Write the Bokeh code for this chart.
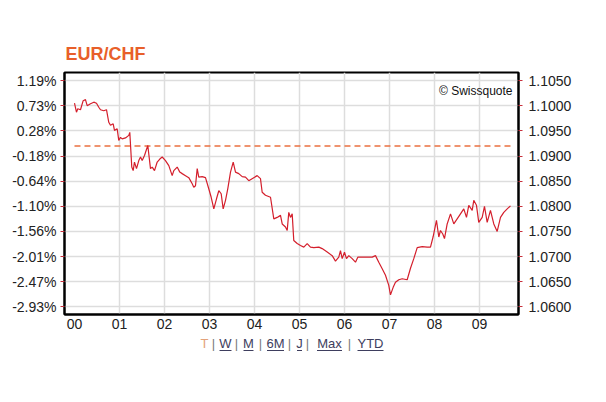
from bokeh.plotting import figure
from bokeh.layouts import column
from bokeh.models import Range1d, LinearAxis, FixedTicker, Label
from bokeh.core.properties import value
from bokeh.embed import file_html
from bokeh.resources import INLINE

# ---- data (hours since 00:00, EUR/CHF price) ----
hours = [0.0, 0.044, 0.073, 0.133, 0.193, 0.244, 0.282, 0.356, 0.429, 0.489,
         0.54, 0.578, 0.651, 0.711, 0.762, 0.8, 0.86, 0.889, 0.949, 0.984,
         1.022, 1.06, 1.133, 1.207, 1.229, 1.244, 1.273, 1.304, 1.333, 1.378,
         1.429, 1.467, 1.504, 1.556, 1.629, 1.689, 1.727, 1.778, 1.838, 1.896,
         1.949, 2.022, 2.096, 2.171, 2.207, 2.282, 2.34, 2.393, 2.467, 2.54,
         2.616, 2.651, 2.689, 2.727, 2.762, 2.838, 2.911, 2.984, 3.038, 3.096,
         3.156, 3.207, 3.26, 3.304, 3.356, 3.407, 3.467, 3.527, 3.578, 3.651,
         3.727, 3.8, 3.873, 3.984, 4.06, 4.133, 4.171, 4.244, 4.356, 4.429,
         4.504, 4.578, 4.616, 4.689, 4.727, 4.762, 4.8, 4.838, 4.873, 4.949,
         5.022, 5.096, 5.171, 5.244, 5.318, 5.429, 5.504, 5.616, 5.727, 5.8,
         5.873, 5.911, 5.949, 6.0, 6.044, 6.096, 6.171, 6.244, 6.296, 6.393,
         6.504, 6.616, 6.689, 6.762, 6.838, 6.911, 6.984, 7.022, 7.082, 7.133,
         7.207, 7.282, 7.393, 7.467, 7.54, 7.616, 7.727, 7.838, 7.911, 7.971,
         8.044, 8.096, 8.133, 8.184, 8.222, 8.282, 8.356, 8.429, 8.504, 8.578,
         8.651, 8.711, 8.762, 8.838, 8.873, 8.933, 8.984, 9.06, 9.111, 9.171,
         9.244, 9.318, 9.393, 9.467, 9.54, 9.616, 9.689]
prices = [1.1005, 1.0987, 1.0994, 1.0992, 1.1010, 1.1012, 1.1000, 1.1004, 1.1007, 1.1005,
          1.0997, 1.0992, 1.0990, 1.0992, 1.0967, 1.0961, 1.0964, 1.0951, 1.0954, 1.0931,
          1.0937, 1.0934, 1.0936, 1.0941, 1.0947, 1.0924, 1.0878, 1.0871, 1.0888, 1.0875,
          1.0891, 1.0898, 1.0891, 1.0901, 1.0921, 1.0875, 1.0878, 1.0871, 1.0888, 1.0894,
          1.0898, 1.0891, 1.0881, 1.0861, 1.0871, 1.0878, 1.0868, 1.0865, 1.0861, 1.0857,
          1.0845, 1.0838, 1.0841, 1.0875, 1.0858, 1.0859, 1.0857, 1.0835, 1.0818, 1.0795,
          1.0815, 1.0831, 1.0825, 1.0795, 1.0812, 1.0835, 1.0868, 1.0888, 1.0868, 1.0865,
          1.0859, 1.0858, 1.0851, 1.0857, 1.0861, 1.0855, 1.0828, 1.0822, 1.0818, 1.0775,
          1.0778, 1.0782, 1.0765, 1.0759, 1.0752, 1.0788, 1.0778, 1.0785, 1.0732, 1.0726,
          1.0722, 1.0719, 1.0726, 1.0719, 1.0718, 1.0719, 1.0716, 1.0709, 1.0702, 1.0691,
          1.0699, 1.0712, 1.0696, 1.0709, 1.0696, 1.0702, 1.0696, 1.0689, 1.0699, 1.0699,
          1.0699, 1.0699, 1.0702, 1.0689, 1.0676, 1.0663, 1.0643, 1.0624, 1.0639, 1.0649,
          1.0654, 1.0656, 1.0654, 1.0677, 1.0696, 1.0718, 1.0720, 1.0719, 1.0719, 1.0740,
          1.0772, 1.0739, 1.0752, 1.0745, 1.0736, 1.0765, 1.0785, 1.0765, 1.0775, 1.0785,
          1.0795, 1.0778, 1.0802, 1.0792, 1.0812, 1.0802, 1.0768, 1.0778, 1.0800, 1.0768,
          1.0792, 1.0765, 1.0750, 1.0778, 1.0788, 1.0795, 1.0801]

reference_price = 1.0920
price_ticks = [1.0600, 1.0650, 1.0700, 1.0750, 1.0800, 1.0850, 1.0900, 1.0950, 1.1000, 1.1050]
price_labels = ["1.0600", "1.0650", "1.0700", "1.0750", "1.0800", "1.0850", "1.0900", "1.0950", "1.1000", "1.1050"]
pct_labels = ["-2.93%", "-2.47%", "-2.01%", "-1.56%", "-1.10%", "-0.64%", "-0.18%", "0.28%", "0.73%", "1.19%"]
hour_ticks = [0, 1, 2, 3, 4, 5, 6, 7, 8, 9]
hour_labels = ["00", "01", "02", "03", "04", "05", "06", "07", "08", "09"]
title_text = "EUR/CHF"
credit_text = "\u00a9 Swissquote"
links = ["T", "|", "W", "|", "M", "|", "6M", "|", "J", "|", "Max", "|", "YTD"]

FONT = "Liberation Sans"
RED = "#d41f2c"
TICK_RED = "#c8303c"

p = figure(width=606, height=334, output_backend="svg", toolbar_location=None,
           x_range=Range1d(-0.222, 9.867), y_range=Range1d(1.0585, 1.1066),
           min_border_left=64, min_border_right=88, min_border_top=72, min_border_bottom=20,
           y_axis_location=None, x_axis_location=None)
p.background_fill_color = "white"
p.border_fill_color = "white"
p.outline_line_color = "black"
p.outline_line_width = 2

p.title.text = title_text
p.title.align = "left"
p.title.offset = 1
p.title.standoff = 18
p.title.text_font = FONT
p.title.text_font_size = "18px"
p.title.text_font_style = "bold"
p.title.text_color = "#e85f2a"

# axes
xaxis = LinearAxis(ticker=FixedTicker(ticks=hour_ticks),
                   major_label_overrides={t: l for t, l in zip(hour_ticks, hour_labels)})
left = LinearAxis(ticker=FixedTicker(ticks=price_ticks),
                  major_label_overrides={t: l for t, l in zip(price_ticks, pct_labels)})
right = LinearAxis(ticker=FixedTicker(ticks=price_ticks),
                   major_label_overrides={t: l for t, l in zip(price_ticks, price_labels)})
for ax in (xaxis, left, right):
    ax.major_label_text_font = FONT
    ax.major_label_text_font_size = "14px"
    ax.major_label_text_color = "#222222"
    ax.minor_tick_line_color = None
    ax.axis_line_color = "black"
    ax.axis_line_width = 2
xaxis.major_tick_line_color = None
xaxis.major_tick_in = 0
xaxis.major_tick_out = 0
xaxis.major_label_standoff = 4
for ax in (left, right):
    ax.major_tick_in = 0
    ax.major_tick_out = 4
    ax.major_tick_line_color = TICK_RED
    ax.major_tick_line_width = 1
left.major_label_standoff = 4
right.major_label_standoff = 6
p.add_layout(xaxis, "below")
p.add_layout(left, "left")
p.add_layout(right, "right")

# grid
p.xgrid.ticker = FixedTicker(ticks=hour_ticks[1:])
p.ygrid.ticker = FixedTicker(ticks=price_ticks)
p.xgrid.grid_line_color = "#dddddd"
p.ygrid.grid_line_color = "#dddddd"
p.xgrid.grid_line_width = 1.5
p.ygrid.grid_line_width = 1.5

# reference line & price line
p.line([hours[0], hours[-1]], [reference_price, reference_price],
       line_color="#ea7040", line_width=1.6, line_dash="6 4")
p.line(hours, prices, line_color=RED, line_width=1.2)

p.add_layout(Label(x=448, y=224, x_units="screen", y_units="screen", text=credit_text,
                   text_font=FONT, text_font_size="12px", text_color="#111111",
                   text_align="right", text_baseline="alphabetic"))

# ---- period links row (x in page pixels, frame aligned with chart frame) ----
q = figure(width=606, height=68, output_backend="svg", toolbar_location=None,
           x_range=Range1d(64, 518), y_range=Range1d(0, 68),
           min_border_left=64, min_border_right=88, min_border_top=0, min_border_bottom=0,
           x_axis_location=None, y_axis_location=None)
q.outline_line_color = None
q.grid.visible = False
q.background_fill_color = "white"
q.border_fill_color = "white"

link_x = [204, 213, 225, 236, 248, 260, 275, 289, 299, 307, 329, 349, 370]
link_w = [0, 0, 12, 0, 10, 0, 17, 0, 5, 0, 25, 0, 26]
link_colors = []
for txt in links:
    if txt == "T":
        link_colors.append("#e3a27a")
    elif txt == "|":
        link_colors.append("#7a7a7a")
    else:
        link_colors.append("#3e3e5e")
q.text(x=link_x, y=[59] * len(links), text=links, text_font=value(FONT),
       text_font_size="13px", text_color=link_colors, text_align="center",
       text_baseline="middle")
ux0 = [lx - w / 2 for lx, w in zip(link_x, link_w) if w > 0]
ux1 = [lx + w / 2 for lx, w in zip(link_x, link_w) if w > 0]
q.segment(x0=ux0, y0=[52] * len(ux0), x1=ux1, y1=[52] * len(ux0),
          line_color="#3e3e5e", line_width=1)

open("out.html", "w").write(file_html(column(p, q, spacing=0), INLINE))
